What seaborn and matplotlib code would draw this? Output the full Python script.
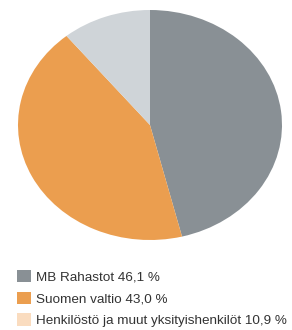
import matplotlib
matplotlib.use("Agg")
import matplotlib.pyplot as plt
from matplotlib.patches import Patch
import seaborn as sns

labels = ["MB Rahastot 46,1 %", "Suomen valtio 43,0 %", "Henkilöstö ja muut yksityishenkilöt 10,9 %"]
values = [46.1, 43.0, 10.9]
pie_colors = ["#899095", "#eb9e4f", "#cfd4d8"]
legend_colors = ["#899095", "#eb9e4f", "#fadcbf"]

sns.set_theme(style="white")
plt.rcParams["font.family"] = ["Liberation Sans", "DejaVu Sans"]

fig = plt.figure(figsize=(2.92, 3.30), dpi=100)
ax = fig.add_axes([18 / 292, (330 - 240) / 330, 264 / 292, 230 / 330])
ax.pie(values, colors=pie_colors, startangle=90, counterclock=False,
       wedgeprops=dict(linewidth=0))
ax.set_aspect("auto")
ax.set_xlim(-1, 1)
ax.set_ylim(-1, 1)
ax.axis("off")

fs = 9.7
handles = [Patch(facecolor=c, edgecolor="none") for c in legend_colors]
fig.legend(handles, labels, loc="upper left", bbox_to_anchor=(17 / 292, 1 - 270 / 330),
           frameon=False, fontsize=fs, handlelength=10.1 / fs, handleheight=10.1 / fs,
           handletextpad=3.6 / fs, labelspacing=5.6 / fs, borderpad=0, borderaxespad=0,
           labelcolor="#333333")

fig.savefig("out.png", dpi=100, facecolor="white")
